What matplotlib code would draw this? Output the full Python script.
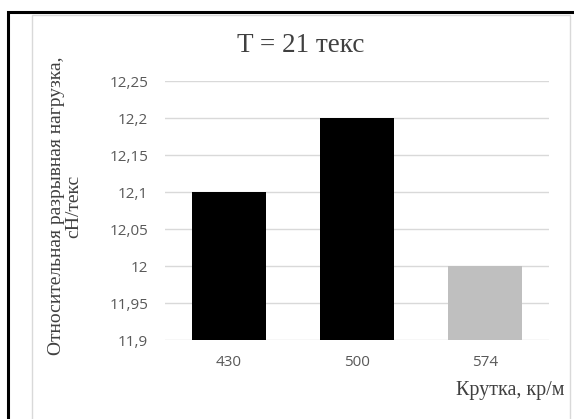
import matplotlib.pyplot as plt
from matplotlib.patches import Rectangle

twist = ['430', '500', '574']
strength = [12.1, 12.2, 12.0]
bar_colors = ['#000000', '#000000', '#bfbfbf']
yticks = [11.9, 11.95, 12.0, 12.05, 12.1, 12.15, 12.2, 12.25]
ytick_labels = ['11,9', '11,95', '12', '12,05', '12,1', '12,15', '12,2', '12,25']

W, H = 574, 419
fig = plt.figure(figsize=(W / 100, H / 100), dpi=100)

# outer black frame and inner grey chart border
fig.patches.append(Rectangle((8 / W, -0.1), 1.2, 1 - 12 / H + 0.1, transform=fig.transFigure,
                             fill=False, edgecolor='black', linewidth=2.2))
fig.patches.append(Rectangle((32 / W, -0.1), (570 - 32) / W, 1 - 15 / H + 0.1, transform=fig.transFigure,
                             fill=False, edgecolor='#d9d9d9', linewidth=1))

left, right = 165 / W, 549 / W
top, bottom = 1 - 81 / H, 1 - 340 / H
ax = fig.add_axes([left, bottom, right - left, top - bottom])

x = range(len(twist))
ax.bar(x, strength, width=0.578, color=bar_colors, zorder=3)
ax.set_xlim(-0.5, 2.5)
ax.set_ylim(11.9, 12.25)
ax.set_yticks(yticks)
ax.set_yticklabels(ytick_labels)
ax.set_xticks(list(x))
ax.set_xticklabels(twist)
ax.yaxis.grid(True, color='#d9d9d9', linewidth=1)
for s in ax.spines.values():
    s.set_visible(False)
ax.tick_params(axis='both', length=0, labelsize=11, labelcolor='#595959')
ax.tick_params(axis='y', pad=12)
ax.tick_params(axis='x', pad=11)
for lbl in ax.get_xticklabels() + ax.get_yticklabels():
    lbl.set_fontfamily('Open Sans')

fig.text(301 / W, 1 - 52 / H, 'T = 21 текс', ha='center', va='baseline',
         fontsize=19.5, family='Liberation Serif', color='#404040')
fig.text(65 / W, 1 - 206 / H, 'Относительная разрывная нагрузка,\ncН/текс', ha='center', va='center',
         rotation=90, fontsize=14, family='Liberation Serif', color='#404040', linespacing=1.05)
fig.text(565 / W, 1 - 395 / H, 'Крутка, кр/м', ha='right', va='baseline',
         fontsize=14.5, family='Liberation Serif', color='#404040')

fig.savefig('out.png', dpi=100)
